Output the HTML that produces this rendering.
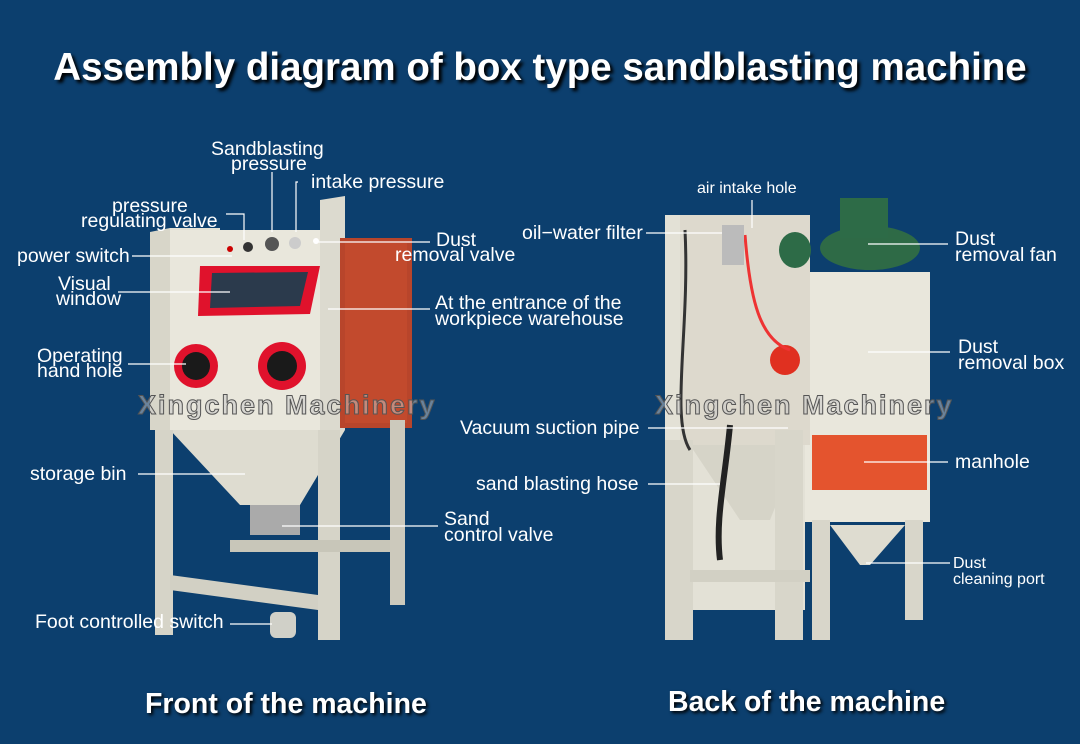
<!DOCTYPE html>
<html><head><meta charset="utf-8"><style>
body{margin:0;width:1080px;height:744px;background:#0c3f6e;position:relative;overflow:hidden;font-family:"Liberation Sans",Arial,sans-serif;color:#fff}
.t{position:absolute;font-size:19.5px;line-height:16px;white-space:nowrap}
h1{position:absolute;left:0;width:1080px;top:46px;margin:0;text-align:center;font-size:38.5px;font-weight:bold;text-shadow:3px 3px 3px #000}
.b{position:absolute;font-size:28.5px;font-weight:bold;text-shadow:2px 2px 3px #000}
svg{position:absolute;left:0;top:0}
.wm{position:absolute;font-size:27px;font-weight:bold;color:rgba(200,200,200,.5);letter-spacing:2px;-webkit-text-stroke:1px #555}
</style></head><body>
<h1>Assembly diagram of box type sandblasting machine</h1>
<svg width="1080" height="744">
<g>
<polygon points="150,232 170,228 170,430 150,430" fill="#d8d6c9"/>
<polygon points="170,228 220,228 220,330 170,330" fill="#e4e2d6"/>
<rect x="170" y="230" width="175" height="200" fill="#e9e7dc"/>
<polygon points="320,200 345,196 345,430 320,430" fill="#dcdacf"/>
<rect x="340" y="238" width="72" height="190" fill="#b8452b"/>
<rect x="345" y="243" width="62" height="180" fill="#c24a2d"/>
<polygon points="200,266 320,266 310,314 198,316" fill="#e0122c"/>
<polygon points="212,273 308,272 300,306 210,308" fill="#2b3a4c"/>
<circle cx="196" cy="366" r="22" fill="#e0122c"/><circle cx="196" cy="366" r="14" fill="#1a1a1a"/>
<circle cx="282" cy="366" r="24" fill="#e0122c"/><circle cx="282" cy="366" r="15" fill="#1a1a1a"/>
<circle cx="248" cy="247" r="5" fill="#333"/><circle cx="272" cy="244" r="7" fill="#555"/><circle cx="295" cy="243" r="6" fill="#ccc"/><circle cx="316" cy="241" r="3" fill="#fff"/><circle cx="230" cy="249" r="3" fill="#c00"/>
<polygon points="170,430 345,430 300,505 240,505" fill="#dedcd0"/>
<rect x="155" y="430" width="18" height="205" fill="#d6d4c8"/>
<rect x="318" y="430" width="22" height="210" fill="#d6d4c8"/>
<rect x="390" y="420" width="15" height="185" fill="#ccc9bc"/>
<polygon points="170,575 318,595 318,610 170,590" fill="#d2d0c4"/>
<polygon points="230,540 390,540 390,552 230,552" fill="#c8c6b9"/>
<rect x="250" y="505" width="50" height="30" fill="#aaa"/>
<rect x="270" y="612" width="26" height="26" rx="6" fill="#d0d0c8"/>
</g>
<g>
<rect x="665" y="215" width="140" height="395" fill="#e3e1d6"/>
<rect x="805" y="272" width="125" height="250" fill="#e9e7dc"/>
<rect x="680" y="215" width="130" height="230" fill="#ddd9cd"/>
<polygon points="690,445 800,445 770,520 740,520" fill="#d6d4c8"/>
<rect x="665" y="440" width="28" height="200" fill="#d8d6ca"/>
<rect x="775" y="430" width="28" height="210" fill="#d8d6ca"/>
<rect x="812" y="520" width="18" height="120" fill="#d8d6ca"/>
<rect x="905" y="520" width="18" height="100" fill="#d8d6ca"/>
<rect x="690" y="570" width="120" height="12" fill="#d2d0c4"/>
<polygon points="830,525 905,525 870,565 860,565" fill="#dedcd0"/>
<rect x="812" y="435" width="115" height="55" fill="#e4542e"/>
<ellipse cx="870" cy="248" rx="50" ry="22" fill="#2e6a46"/>
<rect x="840" y="198" width="48" height="40" fill="#2d6b47"/>
<ellipse cx="795" cy="250" rx="16" ry="18" fill="#2d6b47"/>
<circle cx="785" cy="360" r="15" fill="#e03020"/>
<path d="M745,235 C750,300 760,340 790,350" stroke="#e33" stroke-width="3" fill="none"/>
<path d="M685,230 C690,330 670,420 690,450" stroke="#333" stroke-width="3" fill="none"/>
<path d="M730,425 C725,480 715,520 720,560" stroke="#222" stroke-width="6" fill="none"/>
<rect x="722" y="225" width="22" height="40" fill="#bbb"/>
</g>
<g stroke="#fff" stroke-width="1.2" fill="none">
<path d="M272,172V232M298,182H296V232M226,214H244V240M132,256H232M318,242H430M118,292H230M328,309H430M128,364H186M138,474H245M282,526H438M230,624H272"/>
<path d="M646,233H722M752,200V228M868,244H948M868,352H950M648,428H788M648,484H720M864,462H948M866,563H950"/>
</g>
</svg>
<div class="wm" style="left:138px;top:390px">Xingchen Machinery</div>
<div class="wm" style="left:655px;top:390px">Xingchen Machinery</div>
<div class="t" style="left:211px;top:142px;line-height:15px">Sandblasting</div>
<div class="t" style="left:231px;top:156px">pressure</div>
<div class="t" style="left:311px;top:174px">intake pressure</div>
<div class="t" style="left:112px;top:198px">pressure</div>
<div class="t" style="left:81px;top:213px">regulating valve</div>
<div class="t" style="left:17px;top:248px">power switch</div>
<div class="t" style="left:436px;top:232px">Dust</div>
<div class="t" style="left:395px;top:247px">removal valve</div>
<div class="t" style="left:58px;top:276px">Visual</div>
<div class="t" style="left:56px;top:291px">window</div>
<div class="t" style="left:435px;top:295px;line-height:16px">At the entrance of the<br>workpiece warehouse</div>
<div class="t" style="left:37px;top:349px;line-height:15px">Operating<br>hand hole</div>
<div class="t" style="left:30px;top:466px">storage bin</div>
<div class="t" style="left:444px;top:511px;line-height:16px">Sand<br>control valve</div>
<div class="t" style="left:35px;top:614px">Foot controlled switch</div>
<div class="t" style="left:697px;top:181px;font-size:16px">air intake hole</div>
<div class="t" style="left:522px;top:225px">oil−water filter</div>
<div class="t" style="left:955px;top:231px;line-height:16px">Dust<br>removal fan</div>
<div class="t" style="left:958px;top:339px;line-height:16px">Dust<br>removal box</div>
<div class="t" style="left:460px;top:420px">Vacuum suction pipe</div>
<div class="t" style="left:955px;top:454px">manhole</div>
<div class="t" style="left:476px;top:476px">sand blasting hose</div>
<div class="t" style="left:953px;top:556px;font-size:16px;line-height:16px">Dust<br>cleaning port</div>
<div class="b" style="left:145px;top:688px">Front of the machine</div>
<div class="b" style="left:668px;top:686px">Back of the machine</div>
</body></html>
